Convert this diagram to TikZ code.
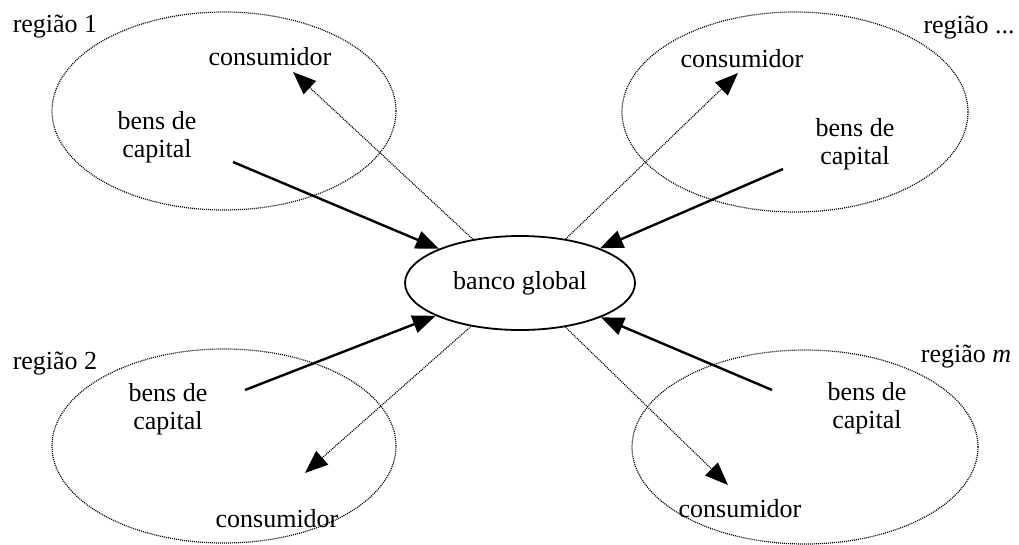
\documentclass[tikz,border=0pt]{standalone}
\usepackage{fontspec}
\setmainfont{Liberation Serif}
\usetikzlibrary{shapes.geometric,arrows.meta}
\begin{document}
\begin{tikzpicture}[x=1pt,y=-1pt,
  every node/.style={font=\fontsize{26}{28}\selectfont},
  region/.style={ellipse,draw=black,line width=1.2pt,dash pattern=on 1pt off 1pt,
    minimum width=#1,inner sep=0pt},
  bank/.style={ellipse,draw,line width=1.8pt,minimum width=230pt,minimum height=94pt,inner sep=0pt},
  label/.style={inner sep=0pt,anchor=base},
  goods/.style={inner sep=0pt,align=center,anchor=center},
  flowin/.style={line width=2.4pt,-{Triangle[length=23pt,width=18pt]}},
  flowout/.style={line width=1.2pt,dash pattern=on 1pt off 1pt,
    -{Triangle[length=23pt,width=18pt]}}]
\useasboundingbox (0,0) rectangle (1019,544);

% regional ellipses
\node[region=344pt,minimum height=198pt] (r1) at (224,111) {};
\node[region=346pt,minimum height=200pt] (r2) at (795,112) {};
\node[region=344pt,minimum height=194pt] (r3) at (224,446) {};
\node[region=346pt,minimum height=194pt] (r4) at (805,447) {};

% central bank
\node[bank] (bank) at (520,283) {banco global};

% region titles
\node[label] (t1) at (55,32) {região 1};
\node[label] (t2) at (969,33) {região ...};
\node[label] (t3) at (55,369) {região 2};
\node[label] (t4) at (966,362) {região \textit{m}};

% consumers
\node[label] (c1) at (270,65) {consumidor};
\node[label] (c2) at (742,67) {consumidor};
\node[label] (c3) at (277,527) {consumidor};
\node[label] (c4) at (740,517) {consumidor};

% capital goods
\node[goods] (k1) at (157,137) {bens de\\capital};
\node[goods] (k2) at (855,144) {bens de\\capital};
\node[goods] (k3) at (168,409) {bens de\\capital};
\node[goods] (k4) at (867,408) {bens de\\capital};

% arrow ends
\coordinate (s1) at (233,162);
\coordinate (s2) at (783,169);
\coordinate (s3) at (245,390);
\coordinate (s4) at (772,390);
\coordinate (d1) at (293,72);
\coordinate (d2) at (738,73);
\coordinate (d3) at (305,473);
\coordinate (d4) at (728,485);

% capital flows into the bank
\draw[flowin] (s1) -- (bank);
\draw[flowin] (s2) -- (bank);
\draw[flowin] (s3) -- (bank);
\draw[flowin] (s4) -- (bank);

% flows from the bank to consumers
\draw[flowout] (bank) -- (d1);
\draw[flowout] (bank) -- (d2);
\draw[flowout] (bank) -- (d3);
\draw[flowout] (bank) -- (d4);
\end{tikzpicture}
\end{document}
